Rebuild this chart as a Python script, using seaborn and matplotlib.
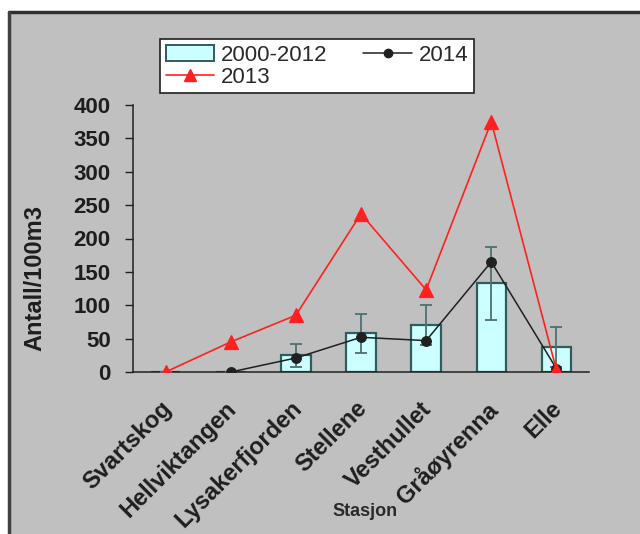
import numpy as np
import pandas as pd
import matplotlib
matplotlib.use("Agg")
import matplotlib.pyplot as plt
import seaborn as sns
from matplotlib.patches import Patch, Rectangle
from matplotlib.lines import Line2D

# data
stations = ["Svartskog", "Hellviktangen", "Lysakerfjorden", "Stellene",
            "Vesthullet", "Gråøyrenna", "Elle"]
mean_2000_2012 = [0, 0, 25, 58, 70, 133, 37]
err_2000_2012 = [0, 0, 17, 29, 30, 55, 30]
val_2013 = [0, 45, 85, 237, 123, 375, 3]
val_2014 = [np.nan, 0, 21, 52, 47, 165, 5]

sns.set_theme(style="white")
plt.rcParams["font.family"] = ["Liberation Sans", "DejaVu Sans"]

bg = "#c0c0c0"
txt = "#1e1e1e"
fig = plt.figure(figsize=(6.4, 5.34), dpi=100, facecolor="white")
# grey panel with dark frame on top/left
fig.patches.append(Rectangle((9 / 640, 0), 1, 1 - 12 / 534, transform=fig.transFigure,
                             facecolor=bg, edgecolor="none", zorder=-2))
fig.lines.append(Line2D([9 / 640, 1], [1 - 12 / 534] * 2, transform=fig.transFigure,
                        color="#303030", lw=2.5))
fig.lines.append(Line2D([9 / 640] * 2, [0, 1 - 12 / 534], transform=fig.transFigure,
                        color="#404040", lw=2.5))

ax = fig.add_axes([133 / 640, 1 - 372 / 534, (589 - 133) / 640, (372 - 105) / 534])
ax.set_facecolor(bg)

df = pd.DataFrame({"stasjon": stations, "mean": mean_2000_2012, "err": err_2000_2012,
                   "y2013": val_2013, "y2014": val_2014})

sns.barplot(data=df, x="stasjon", y="mean", order=stations, color="#ccffff",
            saturation=1, width=0.45, edgecolor="#2f5c5c", linewidth=1.6, ax=ax, zorder=2)
pos = np.arange(len(stations))
ax.errorbar(pos, df["mean"], yerr=df["err"], fmt="none", ecolor="#4d7070",
            elinewidth=1.3, capsize=4, capthick=1.3, zorder=3)

sns.pointplot(data=df, x="stasjon", y="y2014", order=stations, color="#202020",
              markers="o", markersize=7, linewidth=1.1, errorbar=None, ax=ax, zorder=4)
sns.pointplot(data=df, x="stasjon", y="y2013", order=stations, color="#ff2020",
              markers="^", markersize=10, linewidth=1.2, errorbar=None, ax=ax, zorder=5)

ax.set_xlim(-0.5, 6.5)
ax.set_ylim(0, 400)
ax.set_yticks(range(0, 401, 50))
# labels sit slightly left of the category centre, as in the original
ax.set_xticks(pos - 0.09)
ax.set_xticklabels(stations, rotation=45, ha="right", va="top", rotation_mode="anchor",
                   fontsize=17, fontweight="bold", color=txt)
ax.set_xticks(np.arange(-0.5, 7, 1), minor=True)
ax.tick_params(axis="x", which="major", length=0, pad=18)
ax.tick_params(axis="x", which="minor", length=5, width=1, color="#202020", direction="out")
ax.tick_params(axis="y", length=6, width=1, color="#202020", direction="out", pad=10,
               left=True)
for lab in ax.get_yticklabels():
    lab.set_fontsize(16)
    lab.set_fontweight("bold")
    lab.set_color(txt)

for s in ["top", "right"]:
    ax.spines[s].set_visible(False)
for s in ["left", "bottom"]:
    ax.spines[s].set_color("#202020")
    ax.spines[s].set_linewidth(1.1)

ax.set_xlabel("Stasjon", fontsize=13, fontweight="bold", color="#2a2a2a")
ax.xaxis.set_label_coords((365 - 133) / 456, (372 - 503) / 267)
ax.set_ylabel("Antall/100m3", fontsize=17, fontweight="bold", color=txt)
ax.yaxis.set_label_coords((46 - 133) / 456, (372 - 278) / 267)

handles = [
    Patch(facecolor="#ccffff", edgecolor="#2f5c5c", linewidth=1.4, label="2000-2012"),
    Line2D([], [], color="#ff2020", marker="^", markersize=9, lw=1.2, label="2013"),
    Line2D([], [], color="#202020", marker="o", markersize=6, lw=1.1, label="2014"),
]
leg = fig.legend(handles=handles, ncol=2, loc="upper left",
                 bbox_to_anchor=(160 / 640, 1 - 39 / 534), borderaxespad=0,
                 frameon=True, fancybox=False, edgecolor="#202020", framealpha=1,
                 fontsize=16, handlelength=2.2, handletextpad=0.3, columnspacing=1.6,
                 borderpad=0.25, labelspacing=0.05)
leg.get_frame().set_linewidth(1.2)
for t in leg.get_texts():
    t.set_color("#2a2a2a")

fig.savefig("out.png", dpi=100, facecolor=fig.get_facecolor())
